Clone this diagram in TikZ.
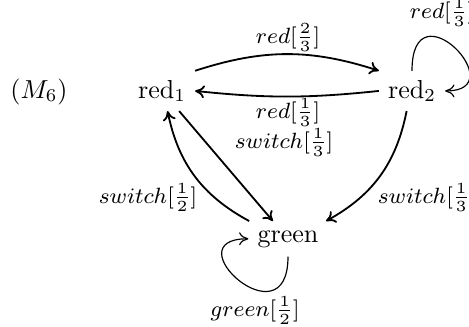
\documentclass[tikz,border=0pt]{standalone}
\usepackage{fix-cm}
\usetikzlibrary{arrows.meta}
\tikzset{
  state/.style={inner sep=3.333pt, font=\normalsize},
  lbl/.style={inner sep=0pt, anchor=base, font=\fontsize{8.5}{10}\selectfont},
  edge/.style={line width=0.7pt, -{To[length=3.6pt,width=5pt]}},
  loopedge/.style={line width=0.45pt, -{To[length=3.6pt,width=5pt]}},
}
\begin{document}
\begin{tikzpicture}[x=0.3846pt, y=-0.3846pt]
\useasboundingbox (0,0) rectangle (469,326);
% nodes
\node[state, anchor=base] (m6) at (39,98) {$(M_6)$};
\node[state, anchor=base] (r1) at (162,98) {red$_1$};
\node[state, anchor=base] (r2) at (412,98) {red$_2$};
\node[state, anchor=base] (g) at (288,242) {green};
% connectors
\draw[edge] (r1.north east) to[bend left=18] (r2.north west);
\draw[edge] (r2.west) to[bend left=6] (r1.east);
\draw[edge] (r1) -- (g);
\draw[edge] (g) to[bend left=25] (r1);
\draw[edge] (r2) to[bend left=25] (g);
\draw[loopedge] (r2.north) .. controls +(0,-88) and +(70,0) .. (r2.east);
\draw[loopedge] (g.south) .. controls +(0,88) and +(-77,0) .. (g.west);
% labels
\node[lbl] (l1) at (288,43) {$red[\frac{2}{3}]$};
\node[lbl] (l2) at (288,118) {$red[\frac{1}{3}]$};
\node[lbl] (l3) at (284,148) {$switch[\frac{1}{3}]$};
\node[lbl] (l4) at (442,18) {$red[\frac{1}{3}]$};
\node[lbl] (l5) at (148,203) {$switch[\frac{1}{2}]$};
\node[lbl] (l6) at (427,203) {$switch[\frac{1}{3}]$};
\node[lbl] (l7) at (255,316) {$green[\frac{1}{2}]$};
\end{tikzpicture}
\end{document}
